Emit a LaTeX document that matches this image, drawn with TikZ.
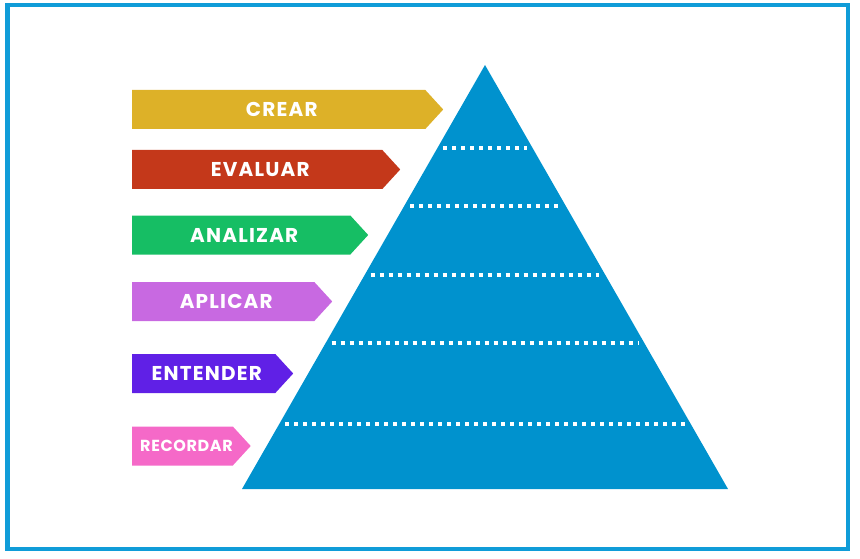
\documentclass[tikz,border=0pt]{standalone}
\usepackage{fontspec}
\setmainfont{Poppins}
\usepackage{tikz}
\usetikzlibrary{shapes.symbols, calc}
\definecolor{frameblue}{RGB}{16,156,216}
\definecolor{pyrblue}{RGB}{0,146,206}
\definecolor{crearcol}{RGB}{221,177,40}
\definecolor{evalcol}{RGB}{196,56,26}
\definecolor{analcol}{RGB}{22,190,100}
\definecolor{aplicol}{RGB}{200,105,225}
\definecolor{entecol}{RGB}{96,32,230}
\definecolor{recocol}{RGB}{245,105,200}
\tikzset{
  levelarrow/.style={signal, signal to=east, signal pointer angle=95, draw=none,
                     minimum height=39pt, inner sep=0pt, anchor=west, text=white,
                     font=\bfseries\fontsize{20}{22}\selectfont\addfontfeatures{LetterSpace=6},
                     execute at begin node=\hspace*{6pt}},
  dotline/.style={white, line width=3.5pt, dash pattern=on 4pt off 5pt},
}

\begin{document}
\begin{tikzpicture}[x=1pt, y=-1pt]
\useasboundingbox (0,0) rectangle (860,559);
\draw[frameblue, line width=4.5pt] (7.25,5.25) rectangle (847.75,548.75);
\coordinate (apex) at (485,65);
\coordinate (baseL) at (242,489);
\coordinate (baseR) at (728,489);
\fill[pyrblue] (apex) -- (baseL) -- (baseR) -- cycle;
\foreach \y in {148,206,275,343,424}
  \draw[dotline] ({485-0.573*(\y-65)+6},\y) -- ({485+0.573*(\y-65)-6},\y);
\node[levelarrow, fill=crearcol, minimum width=311pt] (crear) at (132,109.5) {CREAR};
\node[levelarrow, fill=evalcol, minimum width=268pt] (evaluar) at (132,169.5) {EVALUAR};
\node[levelarrow, fill=analcol, minimum width=236pt] (analizar) at (132,235) {ANALIZAR};
\node[levelarrow, fill=aplicol, minimum width=200pt] (aplicar) at (132,301.5) {APLICAR};
\node[levelarrow, fill=entecol, minimum width=161pt] (entender) at (132,373.5) {ENTENDER};
\node[levelarrow, fill=recocol, minimum width=117pt, execute at begin node=\hspace*{2pt},
      font=\bfseries\fontsize{16}{18}\selectfont\addfontfeatures{LetterSpace=4}] (recordar) at (132,446) {RECORDAR};
\end{tikzpicture}
\end{document}
